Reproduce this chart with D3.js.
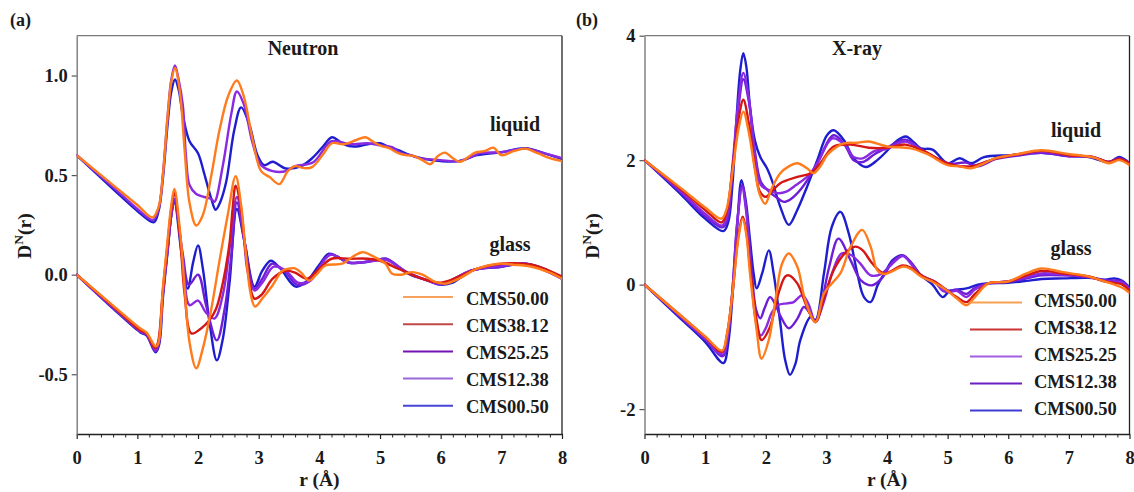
<!DOCTYPE html>
<html><head><meta charset="utf-8">
<script src="https://cdn.jsdelivr.net/npm/d3@7"></script>
<style>
  body { margin: 0; background: #fff; }
  svg text { font-family: "Liberation Serif", "Times New Roman", serif; font-weight: bold; fill: #1a1a1a; }
</style></head>
<body>
<svg id="chart" width="1134" height="492"></svg>
<script>
// ---- composition labels & tick values ----
const seriesNames = ["CMS50.00", "CMS38.12", "CMS25.25", "CMS12.38", "CMS00.50"];
const rTicks = [0, 1, 2, 3, 4, 5, 6, 7, 8];
const neutronYTicks = [-0.5, 0.0, 0.5, 1.0];
const xrayYTicks = [-2, 0, 2, 4];

// ---- neutron D^N(r), liquid (shifted by +0.6) : [r, D] ----
const nLiq_CMS50 = [[0,0.6],[0.6,0.45],[1.0,0.35],[1.25,0.288],[1.35,0.34],[1.42,0.5],[1.5,0.8],[1.56,0.97],[1.62,1.038],[1.7,0.92],[1.78,0.62],[1.86,0.36],[1.97,0.247],[2.08,0.3],[2.22,0.5],[2.35,0.72],[2.5,0.9],[2.64,0.975],[2.75,0.9],[2.9,0.68],[3.04,0.52],[3.18,0.49],[3.34,0.455],[3.48,0.52],[3.6,0.545],[3.75,0.535],[3.88,0.54],[4.05,0.6],[4.21,0.66],[4.4,0.655],[4.6,0.675],[4.76,0.69],[4.9,0.665],[5.03,0.645],[5.15,0.635],[5.3,0.61],[5.42,0.6],[5.55,0.597],[5.7,0.575],[5.83,0.555],[5.95,0.595],[6.07,0.613],[6.2,0.585],[6.32,0.567],[6.45,0.59],[6.57,0.613],[6.72,0.62],[6.87,0.638],[7.0,0.6],[7.2,0.62],[7.39,0.633],[7.6,0.61],[7.8,0.585],[8.0,0.57]];
const nLiq_CMS25 = [[0,0.6],[0.6,0.44],[1.0,0.33],[1.26,0.275],[1.35,0.33],[1.42,0.5],[1.5,0.8],[1.56,0.98],[1.62,1.05],[1.68,0.98],[1.75,0.85],[1.8,0.6],[1.86,0.45],[1.97,0.405],[2.1,0.39],[2.22,0.38],[2.27,0.366],[2.41,0.55],[2.55,0.81],[2.64,0.92],[2.75,0.86],[2.9,0.66],[3.04,0.55],[3.23,0.52],[3.45,0.52],[3.6,0.545],[3.9,0.565],[4.2,0.67],[4.5,0.655],[4.8,0.66],[5.0,0.65],[5.2,0.64],[5.35,0.61],[5.5,0.6],[5.65,0.585],[5.8,0.58],[6.0,0.575],[6.3,0.57],[6.5,0.59],[6.65,0.61],[7.0,0.615],[7.4,0.633],[7.7,0.61],[8.0,0.585]];
const nLiq_CMS00 = [[0,0.6],[0.6,0.43],[1.0,0.32],[1.27,0.263],[1.35,0.32],[1.42,0.48],[1.5,0.76],[1.56,0.92],[1.62,0.98],[1.68,0.93],[1.75,0.8],[1.86,0.67],[2.0,0.61],[2.1,0.51],[2.22,0.38],[2.29,0.326],[2.36,0.36],[2.46,0.46],[2.6,0.73],[2.71,0.84],[2.85,0.75],[2.98,0.6],[3.09,0.55],[3.23,0.567],[3.45,0.533],[3.7,0.545],[3.9,0.59],[4.05,0.64],[4.21,0.69],[4.35,0.665],[4.49,0.646],[4.65,0.645],[4.8,0.655],[5.0,0.66],[5.15,0.64],[5.3,0.625],[5.5,0.6],[5.75,0.58],[6.0,0.57],[6.3,0.57],[6.6,0.6],[7.0,0.615],[7.4,0.635],[7.7,0.61],[8.0,0.58]];

// ---- neutron D^N(r), glass ----
const nGls_CMS50 = [[0,0],[0.6,-0.155],[1.05,-0.27],[1.15,-0.29],[1.3,-0.36],[1.34,-0.35],[1.42,-0.07],[1.5,0.18],[1.56,0.35],[1.61,0.43],[1.7,0.23],[1.78,-0.07],[1.86,-0.34],[1.97,-0.47],[2.08,-0.37],[2.22,-0.17],[2.35,0.063],[2.49,0.3],[2.62,0.495],[2.71,0.35],[2.79,0.1],[2.87,-0.1],[2.94,-0.16],[3.06,-0.12],[3.23,-0.053],[3.39,0.02],[3.5,0.03],[3.6,0.032],[3.7,0.01],[3.83,-0.03],[3.95,0.0],[4.1,0.046],[4.38,0.055],[4.55,0.09],[4.71,0.113],[4.9,0.09],[5.09,0.055],[5.2,0.005],[5.35,0.0],[5.53,0.013],[5.7,0.0],[5.9,-0.035],[6.08,-0.045],[6.3,-0.02],[6.6,0.03],[6.95,0.055],[7.2,0.05],[7.5,0.04],[7.8,0.01],[8.0,-0.02]];
const nGls_CMS38 = [[0,0],[0.6,-0.16],[1.05,-0.28],[1.15,-0.295],[1.29,-0.37],[1.34,-0.34],[1.42,-0.08],[1.5,0.16],[1.56,0.33],[1.61,0.41],[1.7,0.2],[1.78,-0.1],[1.89,-0.295],[2.05,-0.27],[2.19,-0.228],[2.3,-0.17],[2.41,-0.04],[2.52,0.16],[2.57,0.33],[2.62,0.447],[2.7,0.35],[2.8,0.08],[2.93,-0.12],[3.05,-0.1],[3.23,-0.02],[3.45,0.02],[3.6,0.01],[3.8,-0.02],[4.0,0.03],[4.2,0.08],[4.5,0.08],[4.8,0.08],[5.0,0.07],[5.3,0.03],[5.6,-0.01],[6.0,-0.04],[6.3,-0.01],[6.6,0.03],[7.0,0.055],[7.5,0.05],[8.0,-0.01]];
const nGls_CMS25 = [[0,0],[0.6,-0.165],[1.05,-0.285],[1.15,-0.3],[1.3,-0.38],[1.35,-0.34],[1.42,-0.1],[1.5,0.13],[1.56,0.3],[1.61,0.38],[1.75,0.08],[1.86,-0.153],[2.0,-0.13],[2.13,-0.19],[2.27,-0.22],[2.41,-0.1],[2.52,0.13],[2.64,0.39],[2.74,0.23],[2.82,0.013],[2.93,-0.08],[3.06,-0.04],[3.25,0.04],[3.45,0.02],[3.65,-0.04],[3.85,-0.03],[4.18,0.1],[4.5,0.06],[4.9,0.07],[5.1,0.075],[5.4,0.02],[5.7,-0.02],[6.0,-0.045],[6.5,0.02],[7.0,0.045],[7.4,0.055],[8.0,-0.02]];
const nGls_CMS12 = [[0,0],[0.6,-0.165],[1.05,-0.285],[1.15,-0.3],[1.3,-0.385],[1.35,-0.35],[1.42,-0.1],[1.5,0.13],[1.56,0.3],[1.61,0.37],[1.75,0.1],[1.85,-0.05],[2.0,0.0],[2.13,-0.15],[2.31,-0.33],[2.44,-0.17],[2.55,0.1],[2.64,0.363],[2.77,0.16],[2.93,-0.07],[3.06,-0.02],[3.22,0.055],[3.45,0.01],[3.63,-0.05],[3.85,-0.03],[4.17,0.1],[4.5,0.06],[4.9,0.07],[5.1,0.08],[5.45,0.01],[5.8,-0.03],[6.0,-0.05],[6.5,0.02],[7.0,0.04],[7.4,0.055],[8.0,-0.02]];
const nGls_CMS00 = [[0,0],[0.6,-0.17],[1.05,-0.29],[1.15,-0.305],[1.3,-0.39],[1.36,-0.35],[1.42,-0.12],[1.5,0.12],[1.56,0.3],[1.61,0.37],[1.73,0.1],[1.83,-0.07],[1.92,0.063],[2.0,0.147],[2.08,0.03],[2.19,-0.24],[2.31,-0.43],[2.41,-0.32],[2.52,-0.04],[2.64,0.33],[2.77,0.16],[2.93,-0.06],[3.06,0.02],[3.2,0.07],[3.36,0.03],[3.61,-0.06],[3.8,-0.03],[4.0,0.05],[4.16,0.105],[4.49,0.06],[4.8,0.065],[5.09,0.08],[5.3,0.04],[5.5,0.0],[5.8,-0.03],[6.0,-0.05],[6.2,-0.04],[6.5,0.02],[7.0,0.04],[7.4,0.055],[7.7,0.03],[8.0,-0.02]];

// ---- X-ray D^N(r), liquid (shifted by +2) ----
const xLiq_CMS50 = [[0,2],[0.6,1.55],[1.0,1.24],[1.27,1.06],[1.35,1.2],[1.45,1.8],[1.55,2.5],[1.63,2.78],[1.72,2.45],[1.82,1.85],[1.9,1.45],[1.99,1.3],[2.1,1.55],[2.24,1.79],[2.38,1.9],[2.52,1.95],[2.68,1.87],[2.79,1.79],[2.9,1.9],[3.01,2.08],[3.15,2.2],[3.29,2.27],[3.5,2.28],[3.7,2.3],[4.0,2.22],[4.39,2.19],[4.66,2.1],[5.0,1.92],[5.2,1.9],[5.39,1.87],[5.6,1.95],[5.78,2.03],[6.17,2.1],[6.55,2.16],[6.98,2.1],[7.42,2.04],[7.66,1.95],[7.83,2.0],[8.0,1.92]];
const xLiq_CMS38 = [[0,2],[0.6,1.53],[1.0,1.2],[1.27,1.0],[1.35,1.15],[1.45,1.85],[1.55,2.65],[1.63,2.97],[1.72,2.6],[1.82,1.9],[1.9,1.5],[2.0,1.41],[2.1,1.5],[2.24,1.63],[2.52,1.73],[2.74,1.79],[2.9,1.95],[3.12,2.22],[3.4,2.25],[3.7,2.2],[4.0,2.2],[4.3,2.25],[4.6,2.15],[5.0,1.95],[5.39,1.9],[5.8,2.03],[6.2,2.1],[6.55,2.15],[7.0,2.08],[7.4,2.05],[7.66,1.97],[7.83,2.02],[8.0,1.95]];
const xLiq_CMS25 = [[0,2],[0.6,1.5],[1.0,1.14],[1.28,0.95],[1.36,1.1],[1.45,1.9],[1.55,2.95],[1.63,3.4],[1.72,3.0],[1.82,2.1],[1.92,1.6],[2.05,1.52],[2.2,1.47],[2.35,1.5],[2.5,1.6],[2.7,1.75],[2.85,1.95],[3.1,2.35],[3.3,2.25],[3.45,2.05],[3.6,2.03],[3.8,2.15],[4.0,2.18],[4.3,2.3],[4.6,2.15],[5.0,1.95],[5.39,1.9],[5.8,2.03],[6.2,2.1],[6.55,2.14],[7.0,2.08],[7.4,2.05],[7.66,1.97],[7.83,2.02],[8.0,1.95]];
const xLiq_CMS12 = [[0,2],[0.6,1.48],[1.0,1.1],[1.29,0.92],[1.37,1.05],[1.45,1.8],[1.55,2.85],[1.63,3.3],[1.72,2.95],[1.82,2.15],[1.92,1.65],[2.05,1.5],[2.18,1.4],[2.3,1.33],[2.42,1.38],[2.55,1.5],[2.7,1.7],[2.85,1.95],[3.12,2.4],[3.3,2.25],[3.45,2.0],[3.6,1.97],[3.8,2.1],[4.0,2.2],[4.3,2.33],[4.6,2.15],[5.0,1.95],[5.3,1.96],[5.5,1.9],[5.8,2.02],[6.2,2.08],[6.55,2.12],[7.0,2.06],[7.4,2.05],[7.66,1.97],[7.83,2.03],[8.0,1.95]];
const xLiq_CMS00 = [[0,2],[0.6,1.45],[1.0,1.06],[1.3,0.86],[1.38,1.0],[1.45,1.6],[1.52,2.7],[1.58,3.45],[1.63,3.72],[1.68,3.5],[1.74,2.86],[1.82,2.32],[1.91,2.05],[2.02,1.87],[2.1,1.68],[2.24,1.25],[2.38,0.96],[2.52,1.2],[2.68,1.57],[2.85,2.0],[3.01,2.4],[3.12,2.48],[3.29,2.32],[3.45,2.03],[3.65,1.89],[3.84,2.0],[4.01,2.16],[4.15,2.3],[4.31,2.38],[4.45,2.28],[4.56,2.19],[4.75,2.17],[5.0,1.95],[5.2,2.03],[5.39,1.95],[5.6,2.05],[6.05,2.08],[6.55,2.12],[6.9,2.08],[7.32,2.05],[7.66,1.97],[7.83,2.05],[8.0,1.95]];

// ---- X-ray D^N(r), glass ----
const xGls_CMS50 = [[0,0],[0.6,-0.5],[1.0,-0.83],[1.28,-1.06],[1.36,-0.8],[1.45,-0.15],[1.55,0.75],[1.62,1.06],[1.68,0.8],[1.74,0.18],[1.85,-0.73],[1.93,-1.19],[2.05,-0.89],[2.16,-0.25],[2.27,0.34],[2.38,0.5],[2.52,0.29],[2.65,-0.25],[2.82,-0.6],[2.96,-0.14],[3.09,0.02],[3.23,0.18],[3.4,0.61],[3.59,0.88],[3.73,0.61],[3.84,0.23],[3.95,0.17],[4.1,0.22],[4.26,0.29],[4.4,0.25],[4.56,0.13],[4.78,0.03],[5.0,-0.1],[5.15,-0.22],[5.31,-0.33],[5.45,-0.2],[5.67,0.02],[6.0,0.05],[6.3,0.18],[6.55,0.26],[6.9,0.2],[7.33,0.13],[7.6,0.05],[7.88,-0.05],[8.0,-0.13]];
const xGls_CMS38 = [[0,0],[0.6,-0.5],[1.0,-0.84],[1.28,-1.08],[1.36,-0.8],[1.45,-0.15],[1.55,0.8],[1.62,1.09],[1.68,0.85],[1.74,0.3],[1.85,-0.57],[1.93,-0.89],[2.07,-0.68],[2.21,-0.14],[2.32,0.13],[2.38,0.15],[2.52,0.02],[2.68,-0.36],[2.82,-0.6],[2.95,-0.25],[3.12,0.23],[3.3,0.5],[3.48,0.61],[3.6,0.55],[3.75,0.35],[3.95,0.18],[4.26,0.31],[4.4,0.27],[4.6,0.13],[4.8,0.04],[5.0,-0.1],[5.15,-0.2],[5.31,-0.28],[5.45,-0.15],[5.67,0.02],[6.0,0.05],[6.3,0.15],[6.55,0.22],[6.9,0.18],[7.33,0.13],[7.6,0.05],[7.88,0.0],[8.0,-0.1]];
const xGls_CMS25 = [[0,0],[0.6,-0.52],[1.0,-0.87],[1.29,-1.12],[1.37,-0.85],[1.45,-0.1],[1.53,1.0],[1.61,1.55],[1.68,1.15],[1.77,0.0],[1.85,-0.65],[1.92,-0.82],[2.0,-0.7],[2.1,-0.45],[2.2,-0.33],[2.35,-0.3],[2.46,-0.28],[2.6,-0.17],[2.7,-0.3],[2.82,-0.6],[2.95,-0.3],[3.1,0.2],[3.25,0.5],[3.4,0.48],[3.55,0.35],[3.73,0.15],[3.9,0.17],[4.05,0.3],[4.26,0.46],[4.4,0.33],[4.56,0.15],[4.78,0.05],[4.92,-0.1],[5.03,-0.12],[5.15,-0.1],[5.31,-0.2],[5.45,-0.08],[5.67,0.02],[6.0,0.05],[6.3,0.12],[6.55,0.18],[6.9,0.16],[7.33,0.12],[7.6,0.06],[7.88,0.03],[8.0,-0.08]];
const xGls_CMS12 = [[0,0],[0.6,-0.52],[1.0,-0.88],[1.29,-1.15],[1.37,-0.85],[1.45,-0.1],[1.53,1.0],[1.61,1.6],[1.68,1.2],[1.77,0.2],[1.84,-0.4],[1.91,-0.54],[1.98,-0.38],[2.07,-0.2],[2.15,-0.3],[2.24,-0.5],[2.38,-0.7],[2.52,-0.55],[2.63,-0.36],[2.72,-0.45],[2.82,-0.6],[2.92,-0.3],[3.05,0.3],[3.2,0.74],[3.4,0.39],[3.57,0.07],[3.76,-0.01],[3.93,0.12],[4.1,0.38],[4.26,0.47],[4.4,0.35],[4.56,0.15],[4.78,0.05],[4.92,-0.05],[5.03,-0.1],[5.15,-0.08],[5.31,-0.15],[5.45,-0.05],[5.67,0.02],[6.0,0.05],[6.3,0.1],[6.55,0.15],[6.9,0.15],[7.33,0.12],[7.6,0.07],[7.88,0.05],[8.0,-0.07]];
const xGls_CMS00 = [[0,0],[0.6,-0.55],[1.0,-0.92],[1.3,-1.26],[1.38,-0.95],[1.45,-0.2],[1.53,0.95],[1.6,1.68],[1.67,1.35],[1.74,0.72],[1.8,0.18],[1.85,-0.06],[1.94,0.18],[2.05,0.55],[2.13,0.18],[2.24,-0.62],[2.32,-1.21],[2.4,-1.45],[2.49,-1.27],[2.57,-0.89],[2.74,-0.52],[2.82,-0.57],[2.96,0.18],[3.09,0.93],[3.23,1.17],[3.37,0.82],[3.51,0.18],[3.62,-0.2],[3.73,-0.28],[3.85,0.0],[3.97,0.2],[4.1,0.4],[4.26,0.47],[4.4,0.35],[4.56,0.15],[4.75,0.0],[4.92,-0.2],[5.03,-0.1],[5.15,-0.08],[5.31,-0.06],[5.5,0.0],[5.67,0.02],[6.0,0.03],[6.3,0.06],[6.55,0.09],[6.9,0.1],[7.33,0.11],[7.6,0.08],[7.75,0.1],[7.88,0.06],[8.0,-0.05]];

// ---- styling ----
const lineColors = {
  "CMS50.00": "#ff7b1c", "CMS38.12": "#d41616",
  "CMS25.25": "#8a2be2", "CMS12.38": "#6d1ed6", "CMS00.50": "#1e1ece"
};
const legendColorsA = { "CMS50.00": "#f6a25e", "CMS38.12": "#c24848", "CMS25.25": "#7412b4", "CMS12.38": "#9a68d8", "CMS00.50": "#4646d6" };
const legendColorsB = { "CMS50.00": "#f7a050", "CMS38.12": "#c83434", "CMS25.25": "#a25ee2", "CMS12.38": "#6a1fc2", "CMS00.50": "#3c3cd2" };
const drawOrder = ["CMS00.50", "CMS12.38", "CMS25.25", "CMS38.12", "CMS50.00"];

// tick labels use a plain hyphen for negatives
const hyphen = f => v => f(v).replace("\u2212", "-");

const svg = d3.select("#chart");
const serif = '"Liberation Serif", serif';

function drawPanel(p) {
  const x = d3.scaleLinear().domain([0, 8]).range([p.left, p.right]);
  const y = d3.scaleLinear().domain(p.yDomain).range([p.bottom, p.top]);
  const g = svg.append("g");

  const clipId = "clip-" + p.id;
  svg.append("clipPath").attr("id", clipId).append("rect")
    .attr("x", p.left).attr("y", p.top).attr("width", p.right - p.left).attr("height", p.bottom - p.top);

  // frame: top and right edges
  g.append("line").attr("x1", p.left).attr("x2", p.right).attr("y1", p.top).attr("y2", p.top)
    .attr("stroke", "#7a7a7a").attr("stroke-width", 1.3);
  g.append("line").attr("x1", p.right).attr("x2", p.right).attr("y1", p.top).attr("y2", p.bottom)
    .attr("stroke", "#222").attr("stroke-width", 1.3);

  // minor x ticks every 0.2
  const minor = d3.range(0, 8.001, 0.2).filter(v => Math.abs(v - Math.round(v)) > 1e-6);
  g.append("g").attr("transform", `translate(0,${p.bottom})`)
    .call(d3.axisBottom(x).tickValues(minor).tickSize(3.5).tickFormat(""))
    .call(a => a.select(".domain").remove())
    .selectAll("line").attr("stroke", "#222").attr("stroke-width", 1);

  // x axis
  const xa = g.append("g").attr("transform", `translate(0,${p.bottom})`)
    .call(d3.axisBottom(x).tickValues(rTicks).tickSize(5).tickPadding(12).tickSizeOuter(0).tickFormat(d3.format("d")));
  xa.select(".domain").attr("stroke", "#222").attr("stroke-width", 1.4);
  xa.selectAll("line").attr("stroke", "#222").attr("stroke-width", 1.2);
  xa.selectAll("text").attr("font-size", 18.5).attr("fill", "#1a1a1a")
    .style("font-family", serif).style("font-weight", "bold");

  // y axis
  const ya = g.append("g").attr("transform", `translate(${p.left},0)`)
    .call(d3.axisLeft(y).tickValues(p.yTicks).tickSize(5).tickPadding(4).tickSizeOuter(0).tickFormat(hyphen(p.yFormat)));
  ya.select(".domain").attr("stroke", "#7a7a7a").attr("stroke-width", 1.4);
  ya.selectAll("line").attr("stroke", "#555").attr("stroke-width", 1.2);
  ya.selectAll("text").attr("font-size", 18.5).attr("fill", "#1a1a1a")
    .style("font-family", serif).style("font-weight", "bold");

  // curves
  const line = d3.line().x(d => x(d[0])).y(d => y(d[1])).curve(d3.curveCatmullRom.alpha(0.5));
  const curves = g.append("g").attr("clip-path", `url(#${clipId})`);
  [p.glass, p.liquid].forEach(set => {
    drawOrder.forEach(name => {
      if (!set[name]) return;
      curves.append("path").datum(set[name])
        .attr("d", line).attr("fill", "none")
        .attr("stroke", lineColors[name]).attr("stroke-width", 2.4)
        .attr("stroke-linejoin", "round").attr("stroke-linecap", "round");
    });
  });

  // titles and labels
  g.append("text").attr("x", p.titleX).attr("y", 55).attr("text-anchor", "middle").attr("font-size", 20).text(p.title);
  g.append("text").attr("x", p.panelX).attr("y", 26).attr("font-size", 18).text(p.panel);
  g.append("text").attr("x", p.liquidPos[0]).attr("y", p.liquidPos[1]).attr("text-anchor", "middle").attr("font-size", 20).text("liquid");
  g.append("text").attr("x", p.glassPos[0]).attr("y", p.glassPos[1]).attr("text-anchor", "middle").attr("font-size", 20).text("glass");
  g.append("text").attr("x", (p.left + p.right) / 2).attr("y", 486).attr("text-anchor", "middle").attr("font-size", 19.5).text("r (Å)");

  const yl = g.append("text").attr("transform", `translate(${p.yLabelX},236) rotate(-90)`)
    .attr("text-anchor", "middle").attr("font-size", 19.5);
  yl.append("tspan").text("D");
  yl.append("tspan").attr("dy", -8).attr("font-size", 13.5).text("N");
  yl.append("tspan").attr("dy", 8).text("(r)");

  // legend
  seriesNames.forEach((name, i) => {
    const ly = p.legend.y0 + i * p.legend.dy;
    g.append("line").attr("x1", p.legend.x1).attr("x2", p.legend.x2)
      .attr("y1", ly + p.legend.lineOff).attr("y2", ly + p.legend.lineOff)
      .attr("stroke", p.legend.colors[name]).attr("stroke-width", 2);
    g.append("text").attr("x", p.legend.tx).attr("y", ly + 6.5).attr("font-size", 18.5).text(name);
  });
}

drawPanel({
  id: "a", left: 76.7, right: 562, top: 35.7, bottom: 434,
  yDomain: [-0.8, 1.2], yTicks: neutronYTicks, yFormat: d3.format(".1f"),
  title: "Neutron", titleX: 303, panel: "(a)", panelX: 10,
  liquidPos: [515, 131], glassPos: [510, 251], yLabelX: 31,
  liquid: { "CMS50.00": nLiq_CMS50, "CMS25.25": nLiq_CMS25, "CMS00.50": nLiq_CMS00 },
  glass: { "CMS50.00": nGls_CMS50, "CMS38.12": nGls_CMS38, "CMS25.25": nGls_CMS25, "CMS12.38": nGls_CMS12, "CMS00.50": nGls_CMS00 },
  legend: { x1: 403, x2: 453, tx: 466, y0: 298, dy: 27.2, lineOff: -1, colors: legendColorsA }
});

drawPanel({
  id: "b", left: 644.5, right: 1129.5, top: 35.7, bottom: 434,
  yDomain: [-2.4, 4], yTicks: xrayYTicks, yFormat: d3.format("d"),
  title: "X-ray", titleX: 857, panel: "(b)", panelX: 576,
  liquidPos: [1076, 137], glassPos: [1071, 255], yLabelX: 599,
  liquid: { "CMS50.00": xLiq_CMS50, "CMS38.12": xLiq_CMS38, "CMS25.25": xLiq_CMS25, "CMS12.38": xLiq_CMS12, "CMS00.50": xLiq_CMS00 },
  glass: { "CMS50.00": xGls_CMS50, "CMS38.12": xGls_CMS38, "CMS25.25": xGls_CMS25, "CMS12.38": xGls_CMS12, "CMS00.50": xGls_CMS00 },
  legend: { x1: 970, x2: 1022, tx: 1034, y0: 300, dy: 27, lineOff: 2.5, colors: legendColorsB }
});
</script>
</body></html>
